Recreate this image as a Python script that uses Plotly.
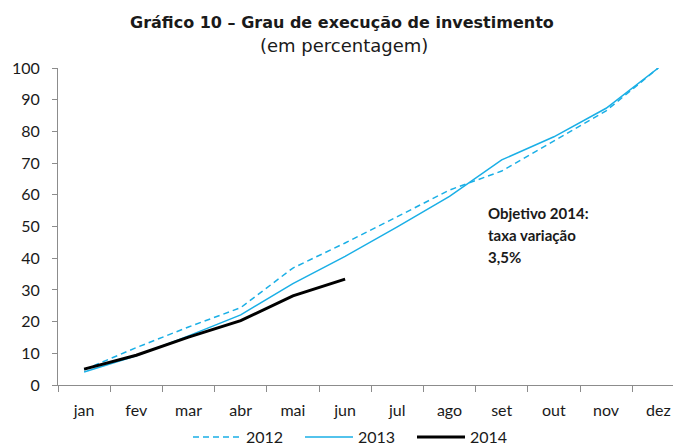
import plotly.graph_objects as go

months = ["jan", "fev", "mar", "abr", "mai", "jun", "jul", "ago", "set", "out", "nov", "dez"]
s2012 = [4.8, 11.8, 18.3, 24.4, 36.9, 44.8, 53.1, 61.5, 67.5, 77.0, 86.5, 100.0]
s2013 = [4.1, 9.2, 15.5, 22.1, 32.0, 40.6, 49.9, 59.5, 71.0, 78.3, 87.3, 100.0]
s2014 = [5.0, 9.4, 15.1, 20.3, 28.1, 33.4]

note_lines = ["Objetivo 2014:", "taxa variação", "3,5%"]

CYAN = "#1AAFE6"
AXIS = "#8C8C8C"
TXT = "#1A1A1A"
TICKFONT = dict(family="Lato, Open Sans, sans-serif", size=16, color=TXT)

# page body has an 8px margin; figure is sized to fill the window
OFF = 8
FW, FH = 681 - OFF, 448 - OFF
PL, PT, PB = 58, 68, 385          # plot area edges in window pixels
PW, PH = 681 - PL, PB - PT


def px(xs):
    return (xs - PL) / PW


def py(ys):
    return (PB - ys) / PH


fig = go.Figure()
fig.add_trace(go.Scatter(x=months, y=s2012, name="2012", mode="lines",
                         line=dict(color=CYAN, width=1.5, dash="6px,4px")))
fig.add_trace(go.Scatter(x=months, y=s2013, name="2013", mode="lines",
                         line=dict(color=CYAN, width=1.5)))
fig.add_trace(go.Scatter(x=months[:len(s2014)], y=s2014, name="2014", mode="lines",
                         line=dict(color="#000000", width=3)))

fig.update_layout(
    width=FW, height=FH,
    margin=dict(l=PL - OFF, r=0, t=PT - OFF, b=FH - (PB - OFF), autoexpand=False),
    paper_bgcolor="white", plot_bgcolor="white",
    showlegend=True,
    legend=dict(orientation="h", x=(188 - OFF) / FW, xref="container", xanchor="left",
                y=(FH - (420 - OFF)) / FH, yref="container", yanchor="top",
                font=dict(family="Lato, Open Sans, sans-serif", size=16, color=TXT),
                itemwidth=48, entrywidth=49, entrywidthmode="pixels",
                bgcolor="rgba(0,0,0,0)"),
    xaxis=dict(type="category", categoryorder="array", categoryarray=months,
               range=[-0.5, -0.5 + PW / 52.2], tickson="boundaries", ticks="outside",
               ticklen=6, tickcolor=AXIS, showline=True, linecolor=AXIS, linewidth=1,
               showgrid=False, zeroline=False, tickfont=TICKFONT, ticklabelstandoff=11,
               automargin=False),
    yaxis=dict(range=[0, 100], dtick=10, tick0=0, ticks="outside", ticklen=5,
               tickcolor=AXIS, showline=True, linecolor=AXIS, linewidth=1,
               showgrid=False, zeroline=False, tickfont=TICKFONT, ticklabelstandoff=9,
               automargin=False),
    annotations=[
        dict(text="<b>Gráfico 10 – Grau de execução de investimento</b>",
             xref="paper", yref="paper", x=px(342), xanchor="center",
             y=py(22), yanchor="middle", showarrow=False,
             font=dict(family="DejaVu Sans, sans-serif", size=16, color=TXT)),
        dict(text="(em percentagem)",
             xref="paper", yref="paper", x=px(344), xanchor="center",
             y=py(45), yanchor="middle", showarrow=False,
             font=dict(family="DejaVu Sans, sans-serif", size=18, color=TXT)),
    ] + [
        dict(text="<b>%s</b>" % t, xref="paper", yref="paper",
             x=px(486), xanchor="left",
             y=py(213 + 22 * i), yanchor="middle", showarrow=False,
             font=dict(family="Lato, Open Sans, sans-serif", size=15, color=TXT))
        for i, t in enumerate(note_lines)
    ],
)

fig.write_html("out.html")
